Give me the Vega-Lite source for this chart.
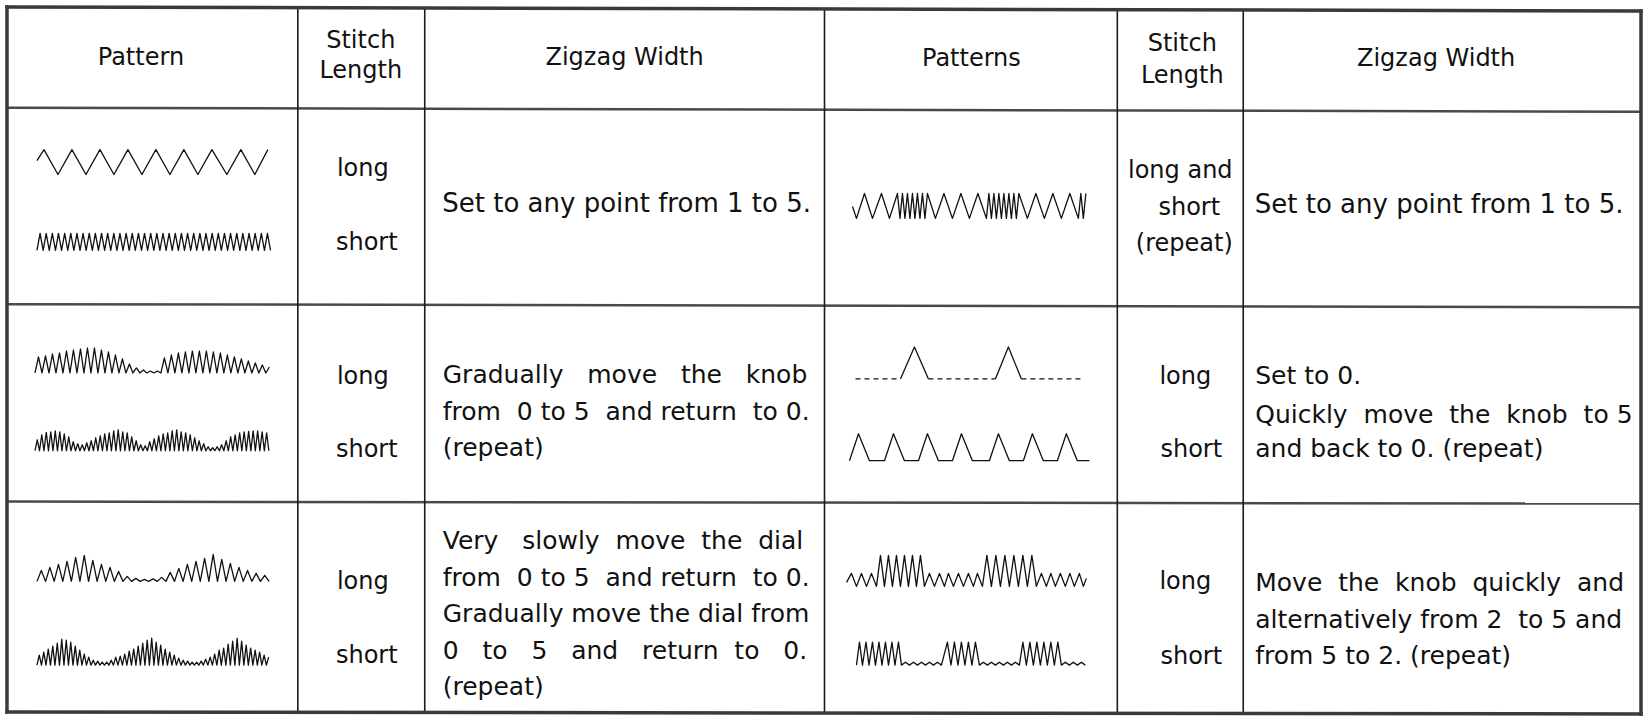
{
"$schema":"https://vega.github.io/schema/vega-lite/v6.json",
"width":1644,"height":717,
"autosize":{"type":"fit","contains":"padding"},
"padding":0,
"background":"#ffffff",
"config":{"view":{"stroke":null}},
"datasets":{
"border":[{"x":7,"y":7,"x2":1642,"y2":11},{"x":7,"y":714,"x2":1642,"y2":716},{"x":7,"y":7,"x2":7,"y2":714},{"x":1642,"y":11,"x2":1642,"y2":716}],
"hrules":[{"x":7,"y":108,"x2":1642,"y2":112},{"x":7,"y":305,"x2":1642,"y2":308},{"x":7,"y":503,"x2":1642,"y2":505}],
"vrules":[{"x":298,"y":8,"x2":298,"y2":715},{"x":425,"y":8,"x2":425,"y2":715},{"x":825,"y":9,"x2":825,"y2":715},{"x":1118,"y":10,"x2":1118,"y2":715},{"x":1244,"y":10,"x2":1244,"y2":716}],
"stitches":[
{"id":"p1","x":37,"y":161},{"id":"p1","x":44,"y":150},{"id":"p1","x":58,"y":175},{"id":"p1","x":72,"y":150},{"id":"p1","x":86,"y":175},{"id":"p1","x":100,"y":150},{"id":"p1","x":114,"y":175},{"id":"p1","x":128,"y":150},{"id":"p1","x":142,"y":175},{"id":"p1","x":156,"y":150},{"id":"p1","x":170,"y":175},{"id":"p1","x":184,"y":150},{"id":"p1","x":198,"y":175},{"id":"p1","x":212,"y":150},{"id":"p1","x":227,"y":175},{"id":"p1","x":241,"y":150},{"id":"p1","x":255,"y":175},{"id":"p1","x":268,"y":150},
{"id":"p2","x":37,"y":251},{"id":"p2","x":40.1,"y":234},{"id":"p2","x":43.2,"y":251},{"id":"p2","x":46.2,"y":234},{"id":"p2","x":49.3,"y":251},{"id":"p2","x":52.4,"y":234},{"id":"p2","x":55.5,"y":251},{"id":"p2","x":58.5,"y":234},{"id":"p2","x":61.6,"y":251},{"id":"p2","x":64.7,"y":234},{"id":"p2","x":67.8,"y":251},{"id":"p2","x":70.8,"y":234},{"id":"p2","x":73.9,"y":251},{"id":"p2","x":77,"y":234},{"id":"p2","x":80.1,"y":251},{"id":"p2","x":83.1,"y":234},{"id":"p2","x":86.2,"y":251},{"id":"p2","x":89.3,"y":234},{"id":"p2","x":92.4,"y":251},{"id":"p2","x":95.4,"y":234},{"id":"p2","x":98.5,"y":251},{"id":"p2","x":101.6,"y":234},{"id":"p2","x":104.7,"y":251},{"id":"p2","x":107.7,"y":234},{"id":"p2","x":110.8,"y":251},{"id":"p2","x":113.9,"y":234},{"id":"p2","x":117,"y":251},{"id":"p2","x":120,"y":234},{"id":"p2","x":123.1,"y":251},{"id":"p2","x":126.2,"y":234},{"id":"p2","x":129.3,"y":251},{"id":"p2","x":132.3,"y":234},{"id":"p2","x":135.4,"y":251},{"id":"p2","x":138.5,"y":234},{"id":"p2","x":141.6,"y":251},{"id":"p2","x":144.6,"y":234},{"id":"p2","x":147.7,"y":251},{"id":"p2","x":150.8,"y":234},{"id":"p2","x":153.9,"y":251},{"id":"p2","x":156.9,"y":234},{"id":"p2","x":160,"y":251},{"id":"p2","x":163.1,"y":234},{"id":"p2","x":166.2,"y":251},{"id":"p2","x":169.2,"y":234},{"id":"p2","x":172.3,"y":251},{"id":"p2","x":175.4,"y":234},{"id":"p2","x":178.5,"y":251},{"id":"p2","x":181.5,"y":234},{"id":"p2","x":184.6,"y":251},{"id":"p2","x":187.7,"y":234},{"id":"p2","x":190.8,"y":251},{"id":"p2","x":193.8,"y":234},{"id":"p2","x":196.9,"y":251},{"id":"p2","x":200,"y":234},{"id":"p2","x":203.1,"y":251},{"id":"p2","x":206.1,"y":234},{"id":"p2","x":209.2,"y":251},{"id":"p2","x":212.3,"y":234},{"id":"p2","x":215.4,"y":251},{"id":"p2","x":218.4,"y":234},{"id":"p2","x":221.5,"y":251},{"id":"p2","x":224.6,"y":234},{"id":"p2","x":227.7,"y":251},{"id":"p2","x":230.7,"y":234},{"id":"p2","x":233.8,"y":251},{"id":"p2","x":236.9,"y":234},{"id":"p2","x":240,"y":251},{"id":"p2","x":243,"y":234},{"id":"p2","x":246.1,"y":251},{"id":"p2","x":249.2,"y":234},{"id":"p2","x":252.3,"y":251},{"id":"p2","x":255.3,"y":234},{"id":"p2","x":258.4,"y":251},{"id":"p2","x":261.5,"y":234},{"id":"p2","x":264.6,"y":251},{"id":"p2","x":267.6,"y":234},{"id":"p2","x":270.7,"y":251},
{"id":"p3","x":853,"y":207},{"id":"p3","x":857,"y":219},{"id":"p3","x":865,"y":194},{"id":"p3","x":873,"y":219},{"id":"p3","x":882,"y":194},{"id":"p3","x":890,"y":219},{"id":"p3","x":898,"y":194},{"id":"p3","x":900.5,"y":219},{"id":"p3","x":903,"y":194},{"id":"p3","x":905.5,"y":219},{"id":"p3","x":908,"y":194},{"id":"p3","x":910.5,"y":219},{"id":"p3","x":913,"y":194},{"id":"p3","x":915.5,"y":219},{"id":"p3","x":918,"y":194},{"id":"p3","x":920.5,"y":219},{"id":"p3","x":923,"y":194},{"id":"p3","x":925.5,"y":219},{"id":"p3","x":928,"y":194},{"id":"p3","x":936,"y":219},{"id":"p3","x":944.5,"y":194},{"id":"p3","x":953,"y":219},{"id":"p3","x":961.5,"y":194},{"id":"p3","x":970,"y":219},{"id":"p3","x":978.5,"y":194},{"id":"p3","x":987,"y":219},{"id":"p3","x":989.5,"y":194},{"id":"p3","x":992,"y":219},{"id":"p3","x":994.5,"y":194},{"id":"p3","x":997,"y":219},{"id":"p3","x":999.5,"y":194},{"id":"p3","x":1002,"y":219},{"id":"p3","x":1004.5,"y":194},{"id":"p3","x":1007,"y":219},{"id":"p3","x":1009.5,"y":194},{"id":"p3","x":1012,"y":219},{"id":"p3","x":1014.5,"y":194},{"id":"p3","x":1017,"y":219},{"id":"p3","x":1019.5,"y":194},{"id":"p3","x":1028,"y":219},{"id":"p3","x":1036.5,"y":194},{"id":"p3","x":1045,"y":219},{"id":"p3","x":1053.5,"y":194},{"id":"p3","x":1062,"y":219},{"id":"p3","x":1070.5,"y":194},{"id":"p3","x":1079,"y":219},{"id":"p3","x":1081.5,"y":194},{"id":"p3","x":1084,"y":219},{"id":"p3","x":1086.5,"y":194},
{"id":"p4","x":35,"y":374},{"id":"p4","x":38.5,"y":358},{"id":"p4","x":42,"y":374},{"id":"p4","x":45.5,"y":357},{"id":"p4","x":49,"y":374},{"id":"p4","x":52.5,"y":355},{"id":"p4","x":56,"y":374},{"id":"p4","x":59.5,"y":354},{"id":"p4","x":63,"y":374},{"id":"p4","x":66.5,"y":352},{"id":"p4","x":70,"y":374},{"id":"p4","x":73.5,"y":351},{"id":"p4","x":77,"y":374},{"id":"p4","x":80.5,"y":350},{"id":"p4","x":84,"y":374},{"id":"p4","x":87.5,"y":349},{"id":"p4","x":91,"y":374},{"id":"p4","x":94.5,"y":349},{"id":"p4","x":98,"y":374},{"id":"p4","x":101.5,"y":351},{"id":"p4","x":105,"y":374},{"id":"p4","x":108.5,"y":353},{"id":"p4","x":112,"y":374},{"id":"p4","x":115.5,"y":356},{"id":"p4","x":119,"y":374},{"id":"p4","x":122.5,"y":360},{"id":"p4","x":126,"y":374},{"id":"p4","x":129.5,"y":365},{"id":"p4","x":133,"y":374},{"id":"p4","x":136.5,"y":369},{"id":"p4","x":140,"y":374},{"id":"p4","x":143.5,"y":371},{"id":"p4","x":147,"y":374},{"id":"p4","x":150.5,"y":372},{"id":"p4","x":154,"y":374},{"id":"p4","x":157.5,"y":372},{"id":"p4","x":161,"y":374},{"id":"p4","x":164.5,"y":359},{"id":"p4","x":168,"y":374},{"id":"p4","x":171.5,"y":356},{"id":"p4","x":175,"y":374},{"id":"p4","x":178.5,"y":354},{"id":"p4","x":182,"y":374},{"id":"p4","x":185.5,"y":353},{"id":"p4","x":189,"y":374},{"id":"p4","x":192.5,"y":352},{"id":"p4","x":196,"y":374},{"id":"p4","x":199.5,"y":352},{"id":"p4","x":203,"y":374},{"id":"p4","x":206.5,"y":352},{"id":"p4","x":210,"y":374},{"id":"p4","x":213.5,"y":353},{"id":"p4","x":217,"y":374},{"id":"p4","x":220.5,"y":354},{"id":"p4","x":224,"y":374},{"id":"p4","x":227.5,"y":356},{"id":"p4","x":231,"y":374},{"id":"p4","x":234.5,"y":358},{"id":"p4","x":238,"y":374},{"id":"p4","x":241.5,"y":360},{"id":"p4","x":245,"y":374},{"id":"p4","x":248.5,"y":362},{"id":"p4","x":252,"y":374},{"id":"p4","x":255.5,"y":364},{"id":"p4","x":259,"y":374},{"id":"p4","x":262.5,"y":366},{"id":"p4","x":266,"y":374},{"id":"p4","x":269.5,"y":368},
{"id":"p5","x":35,"y":452},{"id":"p5","x":37.3,"y":441},{"id":"p5","x":39.5,"y":452},{"id":"p5","x":41.8,"y":436},{"id":"p5","x":44,"y":452},{"id":"p5","x":46.3,"y":433.5},{"id":"p5","x":48.5,"y":452},{"id":"p5","x":50.8,"y":433},{"id":"p5","x":53,"y":452},{"id":"p5","x":55.3,"y":432},{"id":"p5","x":57.5,"y":452},{"id":"p5","x":59.8,"y":433},{"id":"p5","x":62,"y":452},{"id":"p5","x":64.3,"y":435},{"id":"p5","x":66.5,"y":452},{"id":"p5","x":68.8,"y":438},{"id":"p5","x":71,"y":452},{"id":"p5","x":73.3,"y":443},{"id":"p5","x":75.5,"y":452},{"id":"p5","x":77.8,"y":445},{"id":"p5","x":80,"y":452},{"id":"p5","x":82.3,"y":446},{"id":"p5","x":84.5,"y":452},{"id":"p5","x":86.8,"y":444},{"id":"p5","x":89,"y":452},{"id":"p5","x":91.3,"y":442},{"id":"p5","x":93.5,"y":452},{"id":"p5","x":95.8,"y":439},{"id":"p5","x":98,"y":452},{"id":"p5","x":100.3,"y":437},{"id":"p5","x":102.5,"y":452},{"id":"p5","x":104.8,"y":435},{"id":"p5","x":107,"y":452},{"id":"p5","x":109.3,"y":434},{"id":"p5","x":111.5,"y":452},{"id":"p5","x":113.8,"y":432},{"id":"p5","x":116,"y":452},{"id":"p5","x":118.3,"y":431},{"id":"p5","x":120.5,"y":452},{"id":"p5","x":122.8,"y":433},{"id":"p5","x":125,"y":452},{"id":"p5","x":127.3,"y":434},{"id":"p5","x":129.5,"y":452},{"id":"p5","x":131.8,"y":438},{"id":"p5","x":134,"y":452},{"id":"p5","x":136.3,"y":442},{"id":"p5","x":138.5,"y":452},{"id":"p5","x":140.8,"y":446},{"id":"p5","x":143,"y":452},{"id":"p5","x":145.3,"y":447},{"id":"p5","x":147.5,"y":452},{"id":"p5","x":149.8,"y":443},{"id":"p5","x":152,"y":452},{"id":"p5","x":154.3,"y":440},{"id":"p5","x":156.5,"y":452},{"id":"p5","x":158.8,"y":437},{"id":"p5","x":161,"y":452},{"id":"p5","x":163.3,"y":435},{"id":"p5","x":165.5,"y":452},{"id":"p5","x":167.8,"y":434},{"id":"p5","x":170,"y":452},{"id":"p5","x":172.3,"y":432},{"id":"p5","x":174.5,"y":452},{"id":"p5","x":176.8,"y":431},{"id":"p5","x":179,"y":452},{"id":"p5","x":181.3,"y":433},{"id":"p5","x":183.5,"y":452},{"id":"p5","x":185.8,"y":434},{"id":"p5","x":188,"y":452},{"id":"p5","x":190.3,"y":436},{"id":"p5","x":192.5,"y":452},{"id":"p5","x":194.8,"y":439},{"id":"p5","x":197,"y":452},{"id":"p5","x":199.3,"y":442},{"id":"p5","x":201.5,"y":452},{"id":"p5","x":203.8,"y":445},{"id":"p5","x":206,"y":452},{"id":"p5","x":208.3,"y":448},{"id":"p5","x":210.5,"y":452},{"id":"p5","x":212.8,"y":449},{"id":"p5","x":215,"y":452},{"id":"p5","x":217.3,"y":448},{"id":"p5","x":219.5,"y":452},{"id":"p5","x":221.8,"y":446},{"id":"p5","x":224,"y":452},{"id":"p5","x":226.3,"y":442},{"id":"p5","x":228.5,"y":452},{"id":"p5","x":230.8,"y":438},{"id":"p5","x":233,"y":452},{"id":"p5","x":235.3,"y":436},{"id":"p5","x":237.5,"y":452},{"id":"p5","x":239.8,"y":434},{"id":"p5","x":242,"y":452},{"id":"p5","x":244.3,"y":433},{"id":"p5","x":246.5,"y":452},{"id":"p5","x":248.8,"y":432.5},{"id":"p5","x":251,"y":452},{"id":"p5","x":253.3,"y":432},{"id":"p5","x":255.5,"y":452},{"id":"p5","x":257.8,"y":432},{"id":"p5","x":260,"y":452},{"id":"p5","x":262.3,"y":433},{"id":"p5","x":264.5,"y":452},{"id":"p5","x":266.8,"y":434},{"id":"p5","x":269,"y":452},
{"id":"p6","x":37,"y":583},{"id":"p6","x":41.3,"y":572},{"id":"p6","x":45.6,"y":583},{"id":"p6","x":49.9,"y":569},{"id":"p6","x":54.2,"y":583},{"id":"p6","x":58.5,"y":566},{"id":"p6","x":62.8,"y":583},{"id":"p6","x":67.1,"y":563},{"id":"p6","x":71.4,"y":583},{"id":"p6","x":75.7,"y":559},{"id":"p6","x":80,"y":583},{"id":"p6","x":84.3,"y":557},{"id":"p6","x":88.6,"y":583},{"id":"p6","x":92.9,"y":562},{"id":"p6","x":97.2,"y":583},{"id":"p6","x":101.5,"y":566},{"id":"p6","x":105.8,"y":583},{"id":"p6","x":110.1,"y":569},{"id":"p6","x":114.4,"y":583},{"id":"p6","x":118.7,"y":573},{"id":"p6","x":123,"y":583},{"id":"p6","x":127.3,"y":578},{"id":"p6","x":131.6,"y":583},{"id":"p6","x":135.9,"y":580},{"id":"p6","x":140.2,"y":583},{"id":"p6","x":144.5,"y":581},{"id":"p6","x":148.8,"y":583},{"id":"p6","x":153.1,"y":580.5},{"id":"p6","x":157.4,"y":583},{"id":"p6","x":161.7,"y":579},{"id":"p6","x":166,"y":583},{"id":"p6","x":170.3,"y":574},{"id":"p6","x":174.6,"y":583},{"id":"p6","x":178.9,"y":570},{"id":"p6","x":183.2,"y":583},{"id":"p6","x":187.5,"y":566},{"id":"p6","x":191.8,"y":583},{"id":"p6","x":196.1,"y":563},{"id":"p6","x":200.4,"y":583},{"id":"p6","x":204.7,"y":560},{"id":"p6","x":209,"y":583},{"id":"p6","x":213.3,"y":556},{"id":"p6","x":217.6,"y":583},{"id":"p6","x":221.9,"y":561},{"id":"p6","x":226.2,"y":583},{"id":"p6","x":230.5,"y":565},{"id":"p6","x":234.8,"y":583},{"id":"p6","x":239.1,"y":569},{"id":"p6","x":243.4,"y":583},{"id":"p6","x":247.7,"y":572},{"id":"p6","x":252,"y":583},{"id":"p6","x":256.3,"y":575},{"id":"p6","x":260.6,"y":583},{"id":"p6","x":264.9,"y":577},{"id":"p6","x":269.2,"y":583},
{"id":"p7","x":37,"y":667},{"id":"p7","x":39.3,"y":657},{"id":"p7","x":41.5,"y":667},{"id":"p7","x":43.8,"y":654},{"id":"p7","x":46,"y":667},{"id":"p7","x":48.3,"y":651},{"id":"p7","x":50.5,"y":667},{"id":"p7","x":52.8,"y":648},{"id":"p7","x":55,"y":667},{"id":"p7","x":57.3,"y":645},{"id":"p7","x":59.5,"y":667},{"id":"p7","x":61.8,"y":641},{"id":"p7","x":64,"y":667},{"id":"p7","x":66.3,"y":642},{"id":"p7","x":68.5,"y":667},{"id":"p7","x":70.8,"y":644},{"id":"p7","x":73,"y":667},{"id":"p7","x":75.3,"y":648},{"id":"p7","x":77.5,"y":667},{"id":"p7","x":79.8,"y":652},{"id":"p7","x":82,"y":667},{"id":"p7","x":84.3,"y":656},{"id":"p7","x":86.5,"y":667},{"id":"p7","x":88.8,"y":659},{"id":"p7","x":91,"y":667},{"id":"p7","x":93.3,"y":662},{"id":"p7","x":95.5,"y":667},{"id":"p7","x":97.8,"y":663},{"id":"p7","x":100,"y":667},{"id":"p7","x":102.3,"y":664},{"id":"p7","x":104.5,"y":667},{"id":"p7","x":106.8,"y":664},{"id":"p7","x":109,"y":667},{"id":"p7","x":111.3,"y":662},{"id":"p7","x":113.5,"y":667},{"id":"p7","x":115.8,"y":659},{"id":"p7","x":118,"y":667},{"id":"p7","x":120.3,"y":658},{"id":"p7","x":122.5,"y":667},{"id":"p7","x":124.8,"y":656},{"id":"p7","x":127,"y":667},{"id":"p7","x":129.3,"y":653},{"id":"p7","x":131.5,"y":667},{"id":"p7","x":133.8,"y":651},{"id":"p7","x":136,"y":667},{"id":"p7","x":138.3,"y":648},{"id":"p7","x":140.5,"y":667},{"id":"p7","x":142.8,"y":645},{"id":"p7","x":145,"y":667},{"id":"p7","x":147.3,"y":642},{"id":"p7","x":149.5,"y":667},{"id":"p7","x":151.8,"y":640},{"id":"p7","x":154,"y":667},{"id":"p7","x":156.3,"y":644},{"id":"p7","x":158.5,"y":667},{"id":"p7","x":160.8,"y":647},{"id":"p7","x":163,"y":667},{"id":"p7","x":165.3,"y":651},{"id":"p7","x":167.5,"y":667},{"id":"p7","x":169.8,"y":654},{"id":"p7","x":172,"y":667},{"id":"p7","x":174.3,"y":657},{"id":"p7","x":176.5,"y":667},{"id":"p7","x":178.8,"y":660},{"id":"p7","x":181,"y":667},{"id":"p7","x":183.3,"y":662},{"id":"p7","x":185.5,"y":667},{"id":"p7","x":187.8,"y":663},{"id":"p7","x":190,"y":667},{"id":"p7","x":192.3,"y":664},{"id":"p7","x":194.5,"y":667},{"id":"p7","x":196.8,"y":664},{"id":"p7","x":199,"y":667},{"id":"p7","x":201.3,"y":663},{"id":"p7","x":203.5,"y":667},{"id":"p7","x":205.8,"y":661},{"id":"p7","x":208,"y":667},{"id":"p7","x":210.3,"y":659},{"id":"p7","x":212.5,"y":667},{"id":"p7","x":214.8,"y":656},{"id":"p7","x":217,"y":667},{"id":"p7","x":219.3,"y":652},{"id":"p7","x":221.5,"y":667},{"id":"p7","x":223.8,"y":650},{"id":"p7","x":226,"y":667},{"id":"p7","x":228.3,"y":646},{"id":"p7","x":230.5,"y":667},{"id":"p7","x":232.8,"y":643},{"id":"p7","x":235,"y":667},{"id":"p7","x":237.3,"y":640},{"id":"p7","x":239.5,"y":667},{"id":"p7","x":241.8,"y":643},{"id":"p7","x":244,"y":667},{"id":"p7","x":246.3,"y":647},{"id":"p7","x":248.5,"y":667},{"id":"p7","x":250.8,"y":650},{"id":"p7","x":253,"y":667},{"id":"p7","x":255.3,"y":652},{"id":"p7","x":257.5,"y":667},{"id":"p7","x":259.8,"y":654},{"id":"p7","x":262,"y":667},{"id":"p7","x":264.3,"y":657},{"id":"p7","x":266.5,"y":667},{"id":"p7","x":268.8,"y":659},
{"id":"p8a","x":901,"y":380},{"id":"p8a","x":915,"y":348},{"id":"p8a","x":929,"y":380},
{"id":"p8b","x":996,"y":380},{"id":"p8b","x":1009,"y":348},{"id":"p8b","x":1022,"y":380},
{"id":"p9","x":850,"y":462},{"id":"p9","x":859,"y":435},{"id":"p9","x":870,"y":462},{"id":"p9","x":885,"y":462},{"id":"p9","x":894,"y":435},{"id":"p9","x":905,"y":462},{"id":"p9","x":919,"y":462},{"id":"p9","x":928,"y":435},{"id":"p9","x":939,"y":462},{"id":"p9","x":953,"y":462},{"id":"p9","x":962,"y":435},{"id":"p9","x":973,"y":462},{"id":"p9","x":990,"y":462},{"id":"p9","x":999,"y":435},{"id":"p9","x":1010,"y":462},{"id":"p9","x":1024,"y":462},{"id":"p9","x":1033,"y":435},{"id":"p9","x":1044,"y":462},{"id":"p9","x":1058,"y":462},{"id":"p9","x":1067,"y":435},{"id":"p9","x":1078,"y":462},{"id":"p9","x":1090,"y":462},
{"id":"p10","x":847,"y":584},{"id":"p10","x":852,"y":575},{"id":"p10","x":857,"y":588},{"id":"p10","x":862,"y":575},{"id":"p10","x":867,"y":588},{"id":"p10","x":872,"y":575},{"id":"p10","x":877,"y":588},{"id":"p10","x":881,"y":557},{"id":"p10","x":885,"y":588},{"id":"p10","x":889,"y":557},{"id":"p10","x":893,"y":588},{"id":"p10","x":897,"y":557},{"id":"p10","x":901,"y":588},{"id":"p10","x":905,"y":557},{"id":"p10","x":909,"y":588},{"id":"p10","x":913,"y":557},{"id":"p10","x":917,"y":588},{"id":"p10","x":921,"y":557},{"id":"p10","x":925,"y":588},{"id":"p10","x":930,"y":575},{"id":"p10","x":935,"y":588},{"id":"p10","x":940,"y":575},{"id":"p10","x":945,"y":588},{"id":"p10","x":949,"y":575},{"id":"p10","x":954,"y":588},{"id":"p10","x":959,"y":575},{"id":"p10","x":964,"y":588},{"id":"p10","x":969,"y":575},{"id":"p10","x":974,"y":588},{"id":"p10","x":978,"y":575},{"id":"p10","x":983,"y":588},{"id":"p10","x":987.5,"y":557},{"id":"p10","x":992,"y":588},{"id":"p10","x":996.5,"y":557},{"id":"p10","x":1001,"y":588},{"id":"p10","x":1005.5,"y":557},{"id":"p10","x":1010,"y":588},{"id":"p10","x":1014.5,"y":557},{"id":"p10","x":1019,"y":588},{"id":"p10","x":1023.5,"y":557},{"id":"p10","x":1028,"y":588},{"id":"p10","x":1032.5,"y":557},{"id":"p10","x":1037,"y":588},{"id":"p10","x":1042,"y":575},{"id":"p10","x":1047,"y":588},{"id":"p10","x":1051.5,"y":575},{"id":"p10","x":1056,"y":588},{"id":"p10","x":1061,"y":575},{"id":"p10","x":1066,"y":588},{"id":"p10","x":1070.5,"y":575},{"id":"p10","x":1075,"y":588},{"id":"p10","x":1080,"y":575},{"id":"p10","x":1084,"y":588},{"id":"p10","x":1087,"y":580},
{"id":"p11","x":857,"y":667},{"id":"p11","x":860,"y":644},{"id":"p11","x":863,"y":667},{"id":"p11","x":866.5,"y":644},{"id":"p11","x":869.5,"y":667},{"id":"p11","x":873,"y":644},{"id":"p11","x":876,"y":667},{"id":"p11","x":879.5,"y":644},{"id":"p11","x":882.5,"y":667},{"id":"p11","x":886,"y":644},{"id":"p11","x":889,"y":667},{"id":"p11","x":892.5,"y":644},{"id":"p11","x":895.5,"y":667},{"id":"p11","x":899,"y":644},{"id":"p11","x":902,"y":667},{"id":"p11","x":906,"y":664},{"id":"p11","x":910,"y":667},{"id":"p11","x":914,"y":664},{"id":"p11","x":918,"y":667},{"id":"p11","x":922,"y":664},{"id":"p11","x":926,"y":667},{"id":"p11","x":930,"y":664},{"id":"p11","x":934,"y":667},{"id":"p11","x":938,"y":664},{"id":"p11","x":942,"y":667},{"id":"p11","x":948,"y":644},{"id":"p11","x":951.5,"y":667},{"id":"p11","x":955,"y":644},{"id":"p11","x":958.5,"y":667},{"id":"p11","x":962,"y":644},{"id":"p11","x":965.5,"y":667},{"id":"p11","x":969,"y":644},{"id":"p11","x":972.5,"y":667},{"id":"p11","x":976,"y":644},{"id":"p11","x":980,"y":667},{"id":"p11","x":984,"y":664},{"id":"p11","x":988,"y":667},{"id":"p11","x":992,"y":664},{"id":"p11","x":996,"y":667},{"id":"p11","x":1000,"y":664},{"id":"p11","x":1004,"y":667},{"id":"p11","x":1008,"y":664},{"id":"p11","x":1012,"y":667},{"id":"p11","x":1016,"y":664},{"id":"p11","x":1020,"y":667},{"id":"p11","x":1023.5,"y":644},{"id":"p11","x":1027,"y":667},{"id":"p11","x":1030.5,"y":644},{"id":"p11","x":1034,"y":667},{"id":"p11","x":1037.5,"y":644},{"id":"p11","x":1041,"y":667},{"id":"p11","x":1044.5,"y":644},{"id":"p11","x":1048,"y":667},{"id":"p11","x":1051.5,"y":644},{"id":"p11","x":1055,"y":667},{"id":"p11","x":1058.5,"y":644},{"id":"p11","x":1062,"y":667},{"id":"p11","x":1066,"y":664},{"id":"p11","x":1070,"y":667},{"id":"p11","x":1074,"y":664},{"id":"p11","x":1078,"y":667},{"id":"p11","x":1082,"y":664},{"id":"p11","x":1086,"y":667}
],
"dashes":[
{"id":"d1","x":856,"y":380},{"id":"d1","x":901,"y":380},
{"id":"d2","x":929,"y":380},{"id":"d2","x":996,"y":380},
{"id":"d3","x":1022,"y":380},{"id":"d3","x":1085,"y":380}
],
"labels":[
{"part":"head","text":"Pattern","x":141,"y":65},
{"part":"head","text":"Stitch","x":361,"y":48},
{"part":"head","text":"Length","x":361,"y":78},
{"part":"head","text":"Zigzag Width","x":625,"y":65},
{"part":"head","text":"Patterns","x":972,"y":66},
{"part":"head","text":"Stitch","x":1183,"y":51},
{"part":"head","text":"Length","x":1183,"y":83},
{"part":"head","text":"Zigzag Width","x":1437,"y":66},
{"part":"cell","text":"long","x":363,"y":176},
{"part":"cell","text":"short","x":367,"y":251},
{"part":"cell","text":"long and","x":1181,"y":178},
{"part":"cell","text":"short","x":1190,"y":216},
{"part":"cell","text":"(repeat)","x":1185,"y":252},
{"part":"cell","text":"long","x":363,"y":385},
{"part":"cell","text":"short","x":367,"y":458},
{"part":"cell","text":"long","x":1186,"y":385},
{"part":"cell","text":"short","x":1192,"y":458},
{"part":"cell","text":"long","x":363,"y":591},
{"part":"cell","text":"short","x":367,"y":665},
{"part":"cell","text":"long","x":1186,"y":591},
{"part":"cell","text":"short","x":1192,"y":666},
{"part":"desc","text":"Set to any point from 1 to 5.","x":627,"y":213},
{"part":"desc","text":"Set to any point from 1 to 5.","x":1440,"y":214},
{"part":"para","text":"Gradually\u00a0\u00a0\u00a0move\u00a0\u00a0\u00a0the\u00a0\u00a0\u00a0knob","x":443,"y":384},
{"part":"para","text":"from\u00a0\u00a00 to 5\u00a0\u00a0and return\u00a0\u00a0to 0.","x":443,"y":421},
{"part":"para","text":"(repeat)","x":443,"y":457},
{"part":"para","text":"Very\u00a0\u00a0\u00a0slowly\u00a0\u00a0move\u00a0\u00a0the\u00a0\u00a0dial","x":443,"y":551},
{"part":"para","text":"from\u00a0\u00a00 to 5\u00a0\u00a0and return\u00a0\u00a0to 0.","x":443,"y":588},
{"part":"para","text":"Gradually move the dial from","x":443,"y":624},
{"part":"para","text":"0\u00a0\u00a0\u00a0to\u00a0\u00a0\u00a05\u00a0\u00a0\u00a0and\u00a0\u00a0\u00a0return\u00a0\u00a0to\u00a0\u00a0\u00a00.","x":443,"y":661},
{"part":"para","text":"(repeat)","x":443,"y":697},
{"part":"para","text":"Set to 0.","x":1256,"y":385},
{"part":"para","text":"Quickly\u00a0\u00a0move\u00a0\u00a0the\u00a0\u00a0knob\u00a0\u00a0to 5","x":1256,"y":424},
{"part":"para","text":"and back to 0. (repeat)","x":1256,"y":458},
{"part":"para","text":"Move\u00a0\u00a0the\u00a0\u00a0knob\u00a0\u00a0quickly\u00a0\u00a0and","x":1256,"y":593},
{"part":"para","text":"alternatively from 2\u00a0\u00a0to 5 and","x":1256,"y":630},
{"part":"para","text":"from 5 to 2. (repeat)","x":1256,"y":666}
]
},
"encoding":{
"x":{"field":"x","type":"quantitative","scale":{"domain":[0,1644],"nice":false,"zero":false},"axis":null},
"y":{"field":"y","type":"quantitative","scale":{"domain":[0,717],"nice":false,"zero":false,"reverse":true},"axis":null}
},
"layer":[
{"data":{"name":"hrules"},"mark":{"type":"rule","color":"#4a4a4a","strokeWidth":2.5},"encoding":{"x2":{"field":"x2"},"y2":{"field":"y2"}}},
{"data":{"name":"vrules"},"mark":{"type":"rule","color":"#1a1a1a","strokeWidth":1.6},"encoding":{"x2":{"field":"x2"},"y2":{"field":"y2"}}},
{"data":{"name":"border"},"mark":{"type":"rule","color":"#3a3a3a","strokeWidth":3.5,"strokeCap":"square"},"encoding":{"x2":{"field":"x2"},"y2":{"field":"y2"}}},
{"data":{"name":"stitches"},"mark":{"type":"line","color":"#111111","strokeWidth":1.3,"strokeJoin":"round"},"encoding":{"detail":{"field":"id","type":"nominal"}}},
{"data":{"name":"dashes"},"mark":{"type":"line","color":"#111111","strokeWidth":1.3,"strokeDash":[5,4]},"encoding":{"detail":{"field":"id","type":"nominal"}}},
{"data":{"name":"labels"},"transform":[{"filter":"datum.part === 'head' || datum.part === 'cell'"}],"mark":{"type":"text","font":"DejaVu Sans","fontSize":24,"align":"center","baseline":"alphabetic","color":"#111111"},"encoding":{"text":{"field":"text"}}},
{"data":{"name":"labels"},"transform":[{"filter":"datum.part === 'desc'"}],"mark":{"type":"text","font":"DejaVu Sans","fontSize":26,"align":"center","baseline":"alphabetic","color":"#111111"},"encoding":{"text":{"field":"text"}}},
{"data":{"name":"labels"},"transform":[{"filter":"datum.part === 'para'"}],"mark":{"type":"text","font":"DejaVu Sans","fontSize":25,"align":"left","baseline":"alphabetic","color":"#111111"},"encoding":{"text":{"field":"text"}}}
]
}
